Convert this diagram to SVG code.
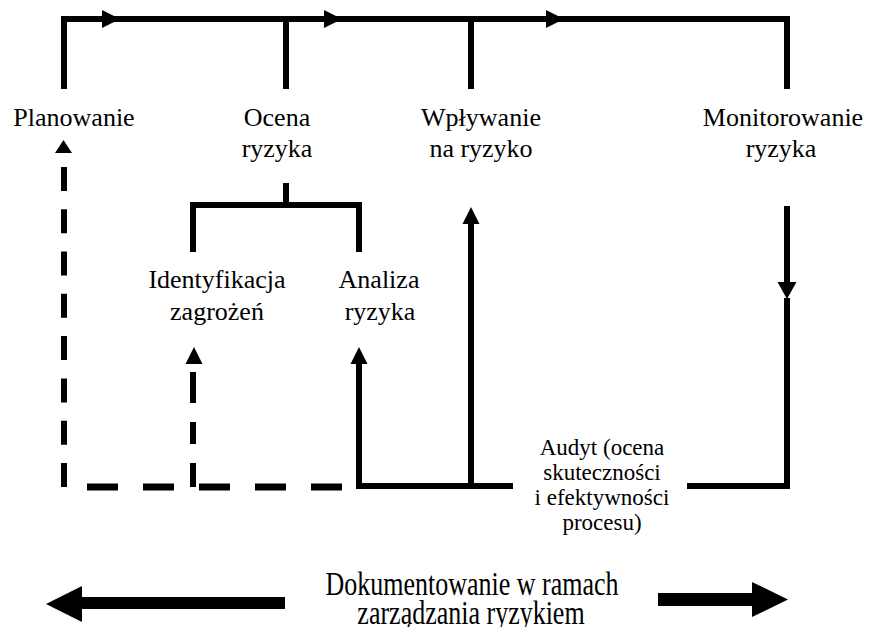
<svg xmlns="http://www.w3.org/2000/svg" xmlns:xlink="http://www.w3.org/1999/xlink" width="872" height="627" viewBox="0 0 872 627">
<style>
.ln{stroke:#000;stroke-width:6;fill:none}
.dv{stroke:#000;stroke-width:6;fill:none;stroke-dasharray:24 18.3}
.dh{stroke:#000;stroke-width:7;fill:none;stroke-dasharray:31 25}
.hd{fill:#000}
text{font-family:'Liberation Serif','Times New Roman',serif;fill:#000;text-anchor:middle}
.t{font-size:26px}
.ta{font-size:23px}
</style>
<defs>
<path id="hr" d="M0,0 L-18,-9 L-18,9 Z"/>
<path id="hu" d="M0,0 L8.5,17 L-8.5,17 Z"/>
<path id="hdn" d="M0,0 L-9.5,-17 L9.5,-17 Z"/>
</defs>
<rect width="872" height="627" fill="#fff"/>
<g id="connectors">
<path class="ln" d="M64,89 V19 H787 V89"/>
<path class="ln" d="M286,19 V89"/>
<path class="ln" d="M471,19 V89"/>
<use xlink:href="#hr" class="hd" x="120" y="19"/>
<use xlink:href="#hr" class="hd" x="342" y="19"/>
<use xlink:href="#hr" class="hd" x="564" y="19"/>
<path class="ln" d="M286,183 V205 M193,252 V205 H359 V252"/>
<path class="dv" d="M64,487 V167"/>
<polygon class="hd" points="63.5,140 72,153 55,153"/>
<path class="ln" d="M193,487 V463 M193,444 V422 M193,403 V372"/>
<use xlink:href="#hu" class="hd" x="194" y="347"/>
<path class="dh" d="M87,487 H343"/>
<path class="ln" d="M359,363 V486 H513"/>
<use xlink:href="#hu" class="hd" x="359" y="347"/>
<path class="ln" d="M471,486 V223"/>
<use xlink:href="#hu" class="hd" x="471" y="207"/>
<path class="ln" d="M787,206 V282"/>
<use xlink:href="#hdn" class="hd" x="787" y="299"/>
<path class="ln" d="M787,298 V486 H687"/>
<polygon class="hd" points="46,604 82,586 82,597 285,597 285,609 82,609 82,622"/>
<polygon class="hd" points="788,599.5 752,582 752,593 658,593 658,606 752,606 752,617"/>
</g>
<g id="planowanie"><text class="t" x="74" y="126">Planowanie</text></g>
<g id="ocena"><text class="t" x="277" y="126">Ocena</text><text class="t" x="277" y="157">ryzyka</text></g>
<g id="wplywanie"><text class="t" x="481" y="126">Wpływanie</text><text class="t" x="481" y="157">na ryzyko</text></g>
<g id="monitorowanie"><text class="t" x="783" y="126">Monitorowanie</text><text class="t" x="781" y="157">ryzyka</text></g>
<g id="identyfikacja"><text class="t" x="217" y="288">Identyfikacja</text><text class="t" x="217" y="320">zagrożeń</text></g>
<g id="analiza"><text class="t" x="379" y="288">Analiza</text><text class="t" x="380" y="320">ryzyka</text></g>
<g id="audyt"><text class="ta" x="602" y="455">Audyt (ocena</text><text class="ta" x="602" y="480">skuteczności</text><text class="ta" x="602" y="505">i efektywności</text><text class="ta" x="602" y="530">procesu)</text></g>
<g id="dokumentowanie"><text class="t" transform="translate(472,595) scale(1,1.3)">Dokumentowanie w ramach</text><text class="t" transform="translate(471,624) scale(1,1.3)">zarządzania ryzykiem</text></g>
</svg>
